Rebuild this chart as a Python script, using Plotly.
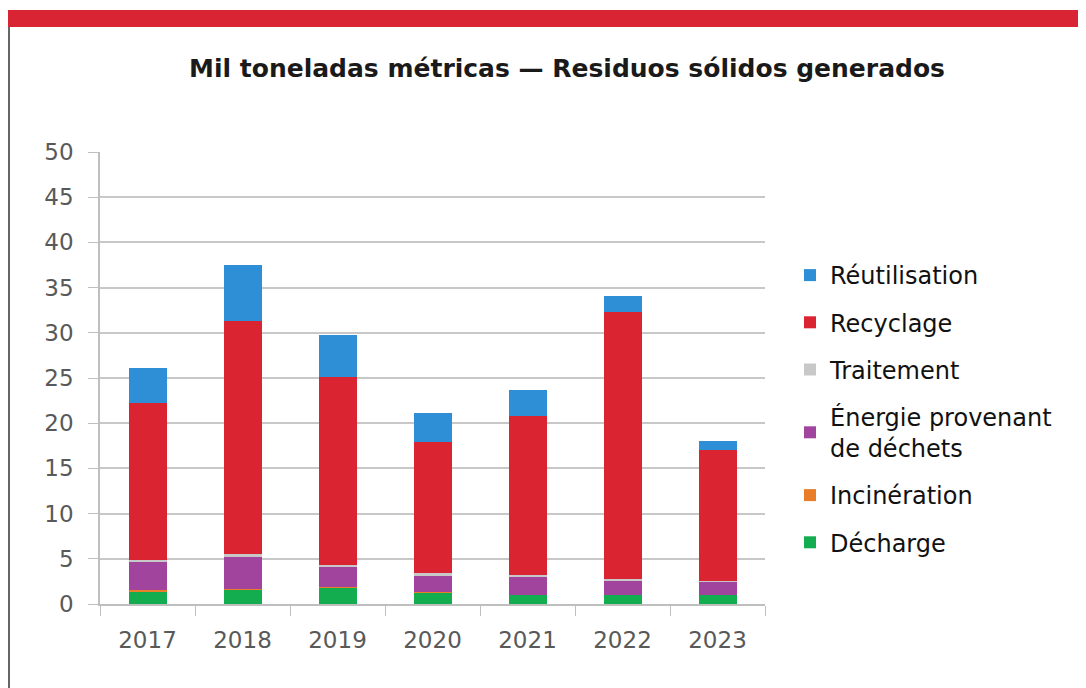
import plotly.graph_objects as go

years = ["2017", "2018", "2019", "2020", "2021", "2022", "2023"]
decharge = [1.4, 1.6, 1.8, 1.3, 1.0, 1.0, 1.0]
incineration = [0.1, 0.1, 0.05, 0.05, 0.05, 0.05, 0.05]
energie = [3.1, 3.5, 2.2, 1.8, 1.9, 1.5, 1.4]
traitement = [0.3, 0.3, 0.3, 0.3, 0.3, 0.2, 0.05]
recyclage = [17.3, 25.8, 20.8, 14.5, 17.5, 29.5, 14.5]
reutilisation = [3.9, 6.2, 4.6, 3.2, 2.9, 1.8, 1.0]

series = [
    ("Décharge", decharge, "#13AD4F"),
    ("Incinération", incineration, "#E87D2A"),
    ("Énergie provenant<br>de déchets", energie, "#A1449E"),
    ("Traitement", traitement, "#C8C8C8"),
    ("Recyclage", recyclage, "#DA2431"),
    ("Réutilisation", reutilisation, "#2E8ED6"),
]

fig = go.Figure()
n = len(series)
for i, (name, vals, col) in enumerate(series):
    fig.add_trace(go.Bar(x=years, y=vals, name=name, marker=dict(color=col, line=dict(width=0)),
                         legendgroup=f"g{i}", legendrank=n - i))

# page is offset by the 8px body margin: figure px = page px - 8
OFF = 8
FW, FH = 1086 - OFF, 688 - OFF
L, R, T, B = 100 - OFF, 765 - OFF, 152 - OFF, 604 - OFF
W, H = R - L, B - T
def px(x):
    return (x - OFF - L) / W
def py(y):
    return (B - (y - OFF)) / H

fig.update_layout(
    width=FW, height=FH,
    barmode="stack", bargap=0.6,
    paper_bgcolor="white", plot_bgcolor="white",
    margin=dict(l=L, r=FW - R, t=T, b=FH - B),
    title=dict(text="<b>Mil toneladas métricas — Residuos sólidos generados</b>",
               x=(567 - OFF) / FW, xanchor="center", y=1 - (68 - OFF) / FH, yanchor="middle",
               font=dict(family="DejaVu Sans", size=25, color="#1a1a1a")),
    font=dict(family="DejaVu Sans", color="#595959"),
    legend=dict(x=px(790), y=py(253), xanchor="left", yanchor="top",
                traceorder="grouped", tracegroupgap=13,
                font=dict(family="DejaVu Sans", size=24, color="#111111"),
                bgcolor="rgba(0,0,0,0)"),
    showlegend=True,
    xaxis=dict(showline=True, linecolor="#BFBFBF", linewidth=1.5,
               ticks="outside", tickson="boundaries", ticklen=10, tickcolor="#BFBFBF",
               tickfont=dict(size=23, color="#595959"), showgrid=False, ticklabelstandoff=15),
    yaxis=dict(range=[0, 50], dtick=5, showline=True, linecolor="#BFBFBF", linewidth=1.5,
               ticks="outside", ticklen=10, tickcolor="#BFBFBF",
               gridcolor="#C8C8C8", gridwidth=1.5, zeroline=False,
               tickfont=dict(size=23, color="#595959"), ticklabelstandoff=10),
    shapes=[
        dict(type="rect", xref="paper", yref="paper", x0=px(0), x1=px(1100), y0=py(27), y1=py(10),
             fillcolor="#D92433", line=dict(width=0), layer="above"),
        dict(type="line", xref="paper", yref="paper", x0=px(9), x1=px(9), y0=py(27), y1=py(700),
             line=dict(color="#333333", width=1.5)),
    ],
)

fig.write_html("out.html")
